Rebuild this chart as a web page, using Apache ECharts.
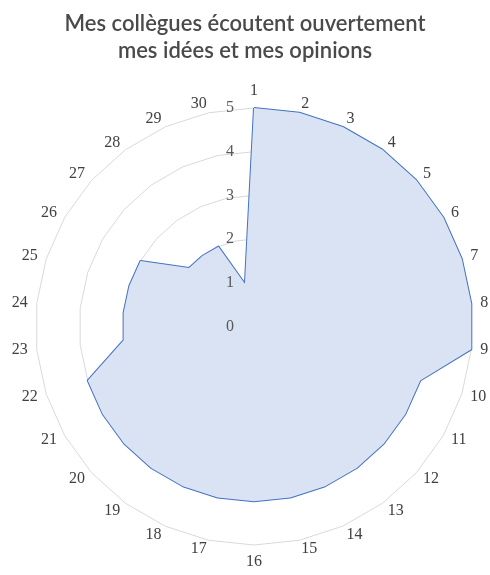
<!DOCTYPE html>
<html>
<head>
<meta charset="utf-8">
<script src="https://cdn.jsdelivr.net/npm/echarts@6/dist/echarts.min.js"></script>
<style>
  html, body { margin: 0; padding: 0; background: #fff; }
  #chart { width: 490px; height: 575px; }
</style>
</head>
<body>
<div id="chart"></div>
<script>
// Survey item numbers around the radar
const categories = ['1','2','3','4','5','6','7','8','9','10','11','12','13','14','15',
  '16','17','18','19','20','21','22','23','24','25','26','27','28','29','30'];
// Score for each item (scale 0 to 5)
const scores = [5,5,5,5,5,5,5,5,5,4,4,4,4,4,4,4,4,4,4,4,4,4,3,3,3,3,2,2,2,1];
const scaleMax = 5;
const titleText = 'Mes collègues écoutent ouvertement\nmes idées et mes opinions';

const chart = echarts.init(document.getElementById('chart'));

// ECharts lays radar axes out counter-clockwise; keep item 1 on top and
// run the rest clockwise by feeding them in reverse after the first.
const order = [0].concat(categories.map((_, i) => i).slice(1).reverse());

const center = [254, 326.5];
const radius = 218.5;
const numberFont = 'Liberation Serif';

// Grid + item names (drawn below the filled area)
const gridIndicators = order.map(i => ({ name: categories[i], min: 0, max: scaleMax }));
// Scale labels 0..5 on the vertical axis (drawn above the filled area)
const labelIndicators = order.map((i, k) => {
  const ind = { name: '', min: 0, max: scaleMax };
  if (k === 0) {
    ind.axisLabel = {
      show: true, color: '#595959', fontSize: 16,
      fontFamily: numberFont, margin: 20
    };
  }
  return ind;
});

chart.setOption({
  animation: false,
  title: {
    text: titleText,
    left: 'center',
    top: 5,
    textStyle: {
      fontFamily: 'Lato', fontSize: 22, fontWeight: 600,
      color: '#4a4a4a', lineHeight: 27
    }
  },
  radar: [{
    center: center,
    radius: radius,
    startAngle: 90,
    shape: 'polygon',
    splitNumber: 5,
    indicator: gridIndicators,
    axisName: { color: '#404040', fontSize: 16, fontFamily: numberFont },
    nameGap: 9,
    axisLine: { show: false },
    axisTick: { show: false },
    axisLabel: { show: false },
    splitArea: { show: false },
    splitLine: { lineStyle: { color: '#d9d9d9', width: 1 } },
    z: 1
  }, {
    center: center,
    radius: radius,
    startAngle: 90,
    shape: 'polygon',
    splitNumber: 5,
    indicator: labelIndicators,
    axisName: { show: false },
    axisLine: { show: false },
    axisTick: { show: false },
    axisLabel: { show: false },
    splitArea: { show: false },
    splitLine: { show: false },
    z: 5
  }],
  series: [{
    type: 'radar',
    radarIndex: 0,
    symbol: 'none',
    z: 2,
    data: [{
      value: order.map(i => scores[i]),
      lineStyle: { color: '#4472c4', width: 2 },
      areaStyle: { color: '#dae3f3', opacity: 1 }
    }]
  }]
});
</script>
</body>
</html>
